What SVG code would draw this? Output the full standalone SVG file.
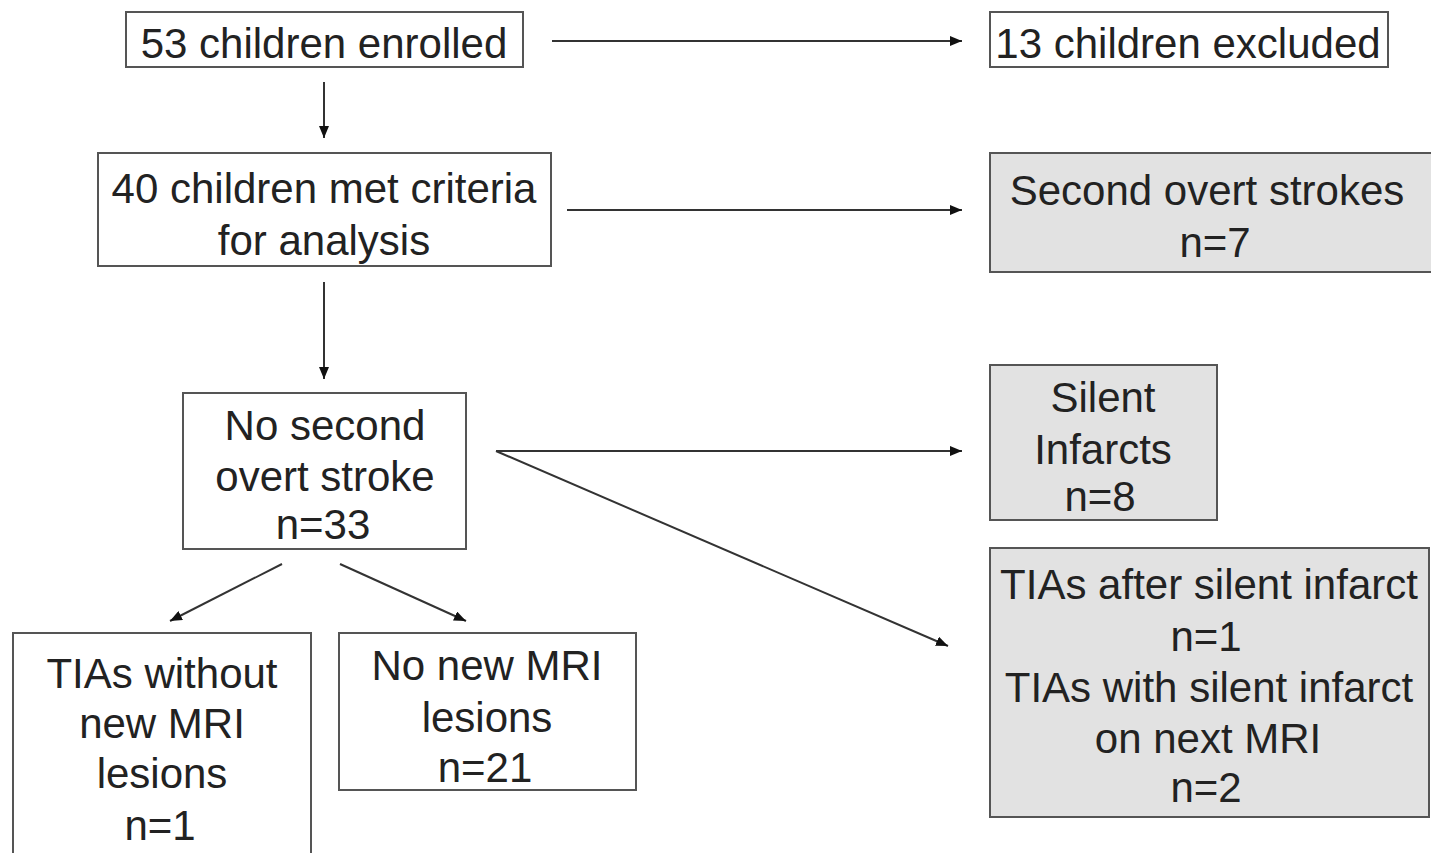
<svg xmlns="http://www.w3.org/2000/svg" width="1431" height="853" viewBox="0 0 1431 853">
<defs>
<marker id="ah" viewBox="0 0 12 10" refX="12" refY="5" markerWidth="12" markerHeight="10" markerUnits="userSpaceOnUse" orient="auto">
<path d="M0,0 L12,5 L0,10 Z" fill="#111"/>
</marker>
</defs>
<style>
.box{fill:#fff;stroke:#555;stroke-width:2}
.gray{fill:#e2e2e2;stroke:#555;stroke-width:2}
.t{font-family:"Liberation Sans",Arial,sans-serif;font-size:42px;fill:#222;text-anchor:middle}
.c{stroke:#333;stroke-width:2;fill:none;marker-end:url(#ah)}
</style>
<rect width="1431" height="853" fill="#fff"/>
<g id="connectors">
<line class="c" x1="552" y1="41" x2="962" y2="41"/>
<line class="c" x1="324" y1="82" x2="324" y2="138"/>
<line class="c" x1="567" y1="210" x2="962" y2="210"/>
<line class="c" x1="324" y1="282" x2="324" y2="379"/>
<line class="c" x1="496" y1="451" x2="962" y2="451"/>
<line class="c" x1="496" y1="451" x2="948" y2="646"/>
<line class="c" x1="282" y1="564" x2="170" y2="621"/>
<line class="c" x1="340" y1="564" x2="466" y2="621"/>
</g>
<g id="enrolled">
<rect class="box" x="126" y="12" width="397" height="55"/>
<text class="t" x="324" y="58">53 children enrolled</text>
</g>
<g id="excluded">
<rect class="box" x="990" y="12" width="398" height="55"/>
<text class="t" x="1188" y="58">13 children excluded</text>
</g>
<g id="met">
<rect class="box" x="98" y="153" width="453" height="113"/>
<text class="t" x="324" y="203">40 children met criteria</text>
<text class="t" x="324" y="255">for analysis</text>
</g>
<g id="second">
<rect class="gray" x="990" y="153" width="445" height="119"/>
<text class="t" x="1207" y="205">Second overt strokes</text>
<text class="t" x="1215" y="257">n=7</text>
</g>
<g id="nosecond">
<rect class="box" x="183" y="393" width="283" height="156"/>
<text class="t" x="325" y="440">No second</text>
<text class="t" x="325" y="491">overt stroke</text>
<text class="t" x="323" y="539">n=33</text>
</g>
<g id="silent">
<rect class="gray" x="990" y="365" width="227" height="155"/>
<text class="t" x="1103" y="412">Silent</text>
<text class="t" x="1103" y="464">Infarcts</text>
<text class="t" x="1100" y="511">n=8</text>
</g>
<g id="tias">
<rect class="gray" x="990" y="548" width="439" height="269"/>
<text class="t" x="1209" y="599">TIAs after silent infarct</text>
<text class="t" x="1206" y="651">n=1</text>
<text class="t" x="1209" y="702">TIAs with silent infarct</text>
<text class="t" x="1208" y="753">on next MRI</text>
<text class="t" x="1206" y="802">n=2</text>
</g>
<g id="tiasnomri">
<rect class="box" x="13" y="633" width="298" height="230"/>
<text class="t" x="162" y="688">TIAs without</text>
<text class="t" x="162" y="738">new MRI</text>
<text class="t" x="162" y="788">lesions</text>
<text class="t" x="160" y="840">n=1</text>
</g>
<g id="nonew">
<rect class="box" x="339" y="633" width="297" height="157"/>
<text class="t" x="487" y="680">No new MRI</text>
<text class="t" x="487" y="732">lesions</text>
<text class="t" x="485" y="782">n=21</text>
</g>
</svg>
